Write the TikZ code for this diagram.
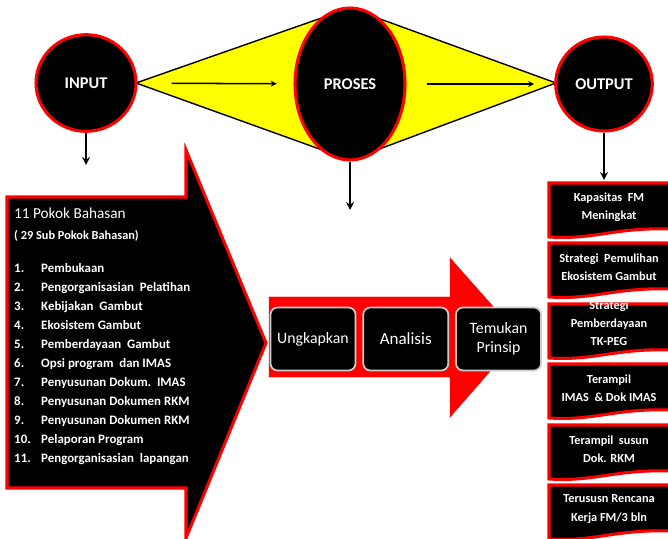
\documentclass[tikz,border=0pt]{standalone}
\usepackage{fontspec}
\setmainfont{Carlito}
\usepackage{xcolor}
\usepackage{tikz}
\usetikzlibrary{shapes.geometric, arrows, positioning}
\definecolor{merah}{rgb}{1.0, 0.0, 0.0}
\definecolor{kuning}{rgb}{1.0, 1.0, 0.0}
\definecolor{abu}{rgb}{0.80, 0.80, 0.80}
\tikzstyle{bulat} = [ellipse, draw=merah, line width=2.6pt, fill=black, text=white, font=\fontsize{14}{16}\selectfont\bfseries]
\tikzstyle{langkah} = [rectangle, rounded corners=6pt, draw=abu, line width=1.5pt, fill=black, text=white, minimum width=2.55cm, minimum height=1.89cm, align=center, font=\fontsize{13.5}{16}\selectfont]
\tikzstyle{hasil} = [text=white, align=center, inner sep=0, font=\fontsize{10.5}{15.5}\selectfont\bfseries]
\tikzstyle{teks} = [text=white, inner sep=0, align=left]
\tikzstyle{panah} = [line width=2pt,->,>=stealth]
% kotak keluaran: #1 atas, #2 nama, #3 teks, #4 tinggi teks
\newcommand{\kotakhasil}[4]{%
  \draw[merah, line width=2.6pt, fill=black] (549,#1) -- (672,#1) -- (672,#1+46)
    .. controls (615,#1+44) and (595,#1+57) .. (549,#1+54) -- cycle;
  \node[hasil] (#2) at (609,#1+#4) {#3};}
\newcommand{\butir}[2]{\makebox[0.81cm][l]{#1}#2}

\begin{document}
\begin{tikzpicture}[x=0.03cm, y=-0.03cm]
    \useasboundingbox (0,0) rectangle (668,539);
    \clip (0,0) rectangle (668,539);
    % atas
    \filldraw[fill=kuning, draw=black, line width=1.2pt] (136,83) -- (350,8) -- (556,83) -- (350,160) -- cycle;
    \node[bulat, minimum width=3cm, minimum height=2.9cm] (input) at (86,83) {INPUT};
    \node[bulat, minimum width=3.3cm, minimum height=4.56cm] (proses) at (350,84) {PROSES};
    \node[bulat, minimum width=2.9cm, minimum height=2.82cm] (output) at (604,84) {OUTPUT};
    \draw[line width=1.3pt, ->, >=stealth, shorten <=1.02cm, shorten >=0.5cm] (input) -- (proses);
    \draw[line width=1.3pt, ->, >=stealth, shorten <=0.6cm, shorten >=0.6cm] (proses) -- (output);
    \coordinate (inBawah) at (86,165);
    \coordinate (proBawah) at (350,210);
    \coordinate (outBawah) at (604,180);
    \draw[panah] (input) -- (inBawah);
    \draw[panah] (proses) -- (proBawah);
    \draw[panah] (output) -- (outBawah);
    % masukan
    \draw[merah, line width=2.6pt, fill=black] (7,197) -- (186,197) -- (186,150) -- (266,343) -- (186,538) -- (186,488) -- (7,488) -- cycle;
    \node[teks, anchor=west, font=\fontsize{13}{15}\selectfont] (judul) at (14,213) {11 Pokok Bahasan};
    \node[teks, anchor=west, font=\fontsize{10.5}{12}\selectfont\bfseries] (subjudul) at (14,236) {( 29 Sub Pokok Bahasan)};
    \node[teks, anchor=north west, font=\fontsize{11}{16.2}\selectfont\bfseries] (materi) at (14,263) {\butir{1.}{Pembukaan}\\ \butir{2.}{Pengorganisasian\ \ Pelatihan}\\
      \butir{3.}{Kebijakan\ \ Gambut}\\ \butir{4.}{Ekosistem Gambut}\\ \butir{5.}{Pemberdayaan\ \ Gambut}\\
      \butir{6.}{Opsi program\ \ dan IMAS}\\ \butir{7.}{Penyusunan Dokum.\ \ IMAS}\\ \butir{8.}{Penyusunan Dokumen RKM}\\
      \butir{9.}{Penyusunan Dokumen RKM}\\ \butir{10.}{Pelaporan Program}\\ \butir{11.}{Pengorganisasian\ \ lapangan}};
    % proses
    \draw[merah!85!black, fill=merah] (269,297) -- (450,297) -- (450,258) -- (520,337) -- (450,417) -- (450,377) -- (269,377) -- cycle;
    \node[langkah] (ungkap) at (313,339) {Ungkapkan};
    \node[langkah, right=0.18cm of ungkap, font=\fontsize{14.5}{16}\selectfont] (analisis) {Analisis};
    \node[langkah, right=0.18cm of analisis] (temukan) {Temukan\\Prinsip};
    % keluaran
    \kotakhasil{183}{hasil1}{Kapasitas\ \ FM\\Meningkat}{24}
    \kotakhasil{243}{hasil2}{Strategi\ \ Pemulihan\\Ekosistem Gambut}{24}
    \kotakhasil{304}{hasil3}{Strategi\\Pemberdayaan\\TK-PEG}{19}
    \kotakhasil{364}{hasil4}{Terampil\\IMAS\ \ \& Dok IMAS}{24}
    \kotakhasil{425}{hasil5}{Terampil\ \ susun\\Dok. RKM}{24}
    \kotakhasil{485}{hasil6}{Terususn Rencana\\Kerja FM/3 bln}{24}
\end{tikzpicture}
\end{document}
